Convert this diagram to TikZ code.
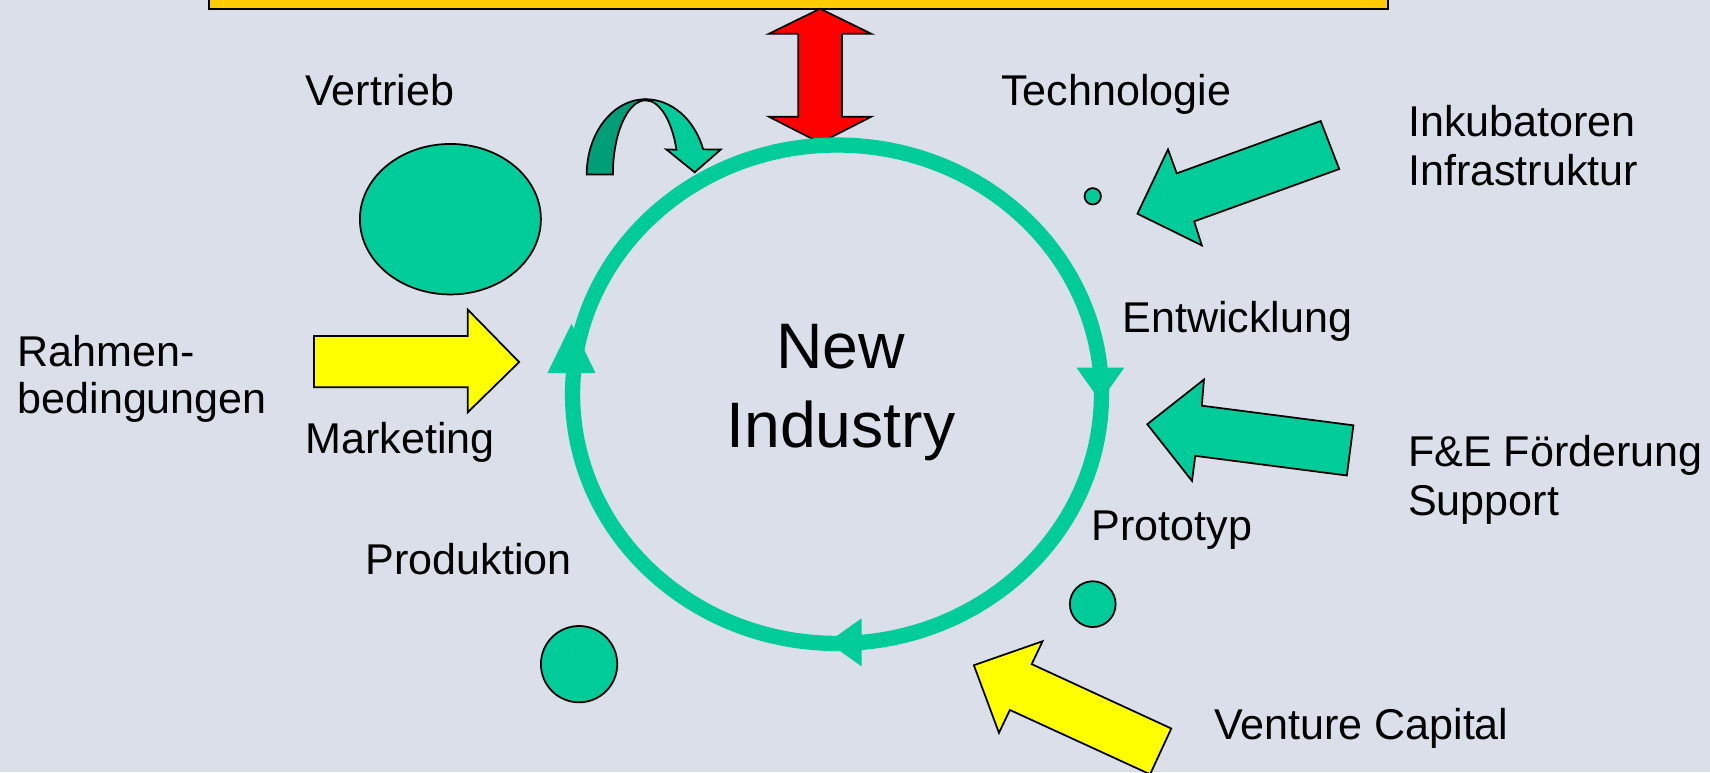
\documentclass[tikz,border=0pt]{standalone}
\usepackage{fontspec}
\setmainfont{Liberation Sans}
\usetikzlibrary{shapes.geometric}
\definecolor{bgc}{RGB}{218,223,234}
\definecolor{grn}{RGB}{0,204,153}
\definecolor{dkgrn}{RGB}{0,158,118}
\definecolor{gold}{RGB}{255,204,0}
\definecolor{yel}{RGB}{255,255,0}
\definecolor{rd}{RGB}{255,0,0}
\tikzset{
  lbl/.style={anchor=base west, inner sep=0pt, font=\fontsize{39.5}{44}\selectfont},
  big/.style={anchor=base, inner sep=0pt, font=\fontsize{59}{70}\selectfont},
  blockarrow/.style={draw=black, line width=1.6pt, line join=miter},
  dot/.style={circle, draw=black, fill=grn, line width=1.6pt, inner sep=0pt},
  ringtip/.style={fill=grn, draw=none}
}
\begin{document}
\begin{tikzpicture}[x=1pt,y=-1pt]
\fill[bgc] (0,0) rectangle (1568,708);
\useasboundingbox (0,0) rectangle (1568,708);

% header bar
\draw[fill=gold, draw=black, line width=1.8pt] (192,-10) rectangle (1273,8);

% red double arrow
\draw[blockarrow, fill=rd] (752,8) -- (799,31) -- (772,31) -- (772,107) -- (799,107)
  -- (752,131) -- (705,107) -- (732,107) -- (732,31) -- (705,31) -- cycle;

% ring
\draw[grn, line width=14pt] (767.5,361.5) ellipse [x radius=242.5, y radius=228.5];
\fill[ringtip] (987,337) -- (1031,337) -- (1009,368) -- cycle;
\fill[ringtip] (790,567) -- (790,611) -- (759,589) -- cycle;
\fill[ringtip] (502,342) -- (546,342) -- (524,297) -- cycle;

% curved arrow
\draw[blockarrow, fill=dkgrn] (538,160) arc[start angle=180, end angle=270, x radius=54, y radius=69]
  -- (592,92) arc[start angle=270, end angle=180, x radius=30, y radius=68] -- cycle;
\draw[blockarrow, fill=grn] (592,91) arc[start angle=270, end angle=340.5, x radius=56, y radius=69]
  -- (661,137) -- (637,158) -- (611,137) -- (620.3,137.3)
  arc[start angle=340.5, end angle=270, x radius=30, y radius=68] -- cycle;

% circles
\node[dot, ellipse, minimum width=166pt, minimum height=138pt] (vt) at (413,201) {};
\node[dot, minimum size=15pt] (tc) at (1002,180) {};
\node[dot, minimum size=42pt] (pt) at (1002,554) {};
\node[dot, minimum size=70pt] (pr) at (531,609) {};

% green block arrows
\draw[blockarrow, fill=grn] (1211,111) -- (1228,155) -- (1095,203) -- (1102,225)
  -- (1043,196) -- (1071,137) -- (1079,159) -- cycle;
\draw[blockarrow, fill=grn] (1241,390) -- (1235,436) -- (1096,418) -- (1093,441)
  -- (1052,389) -- (1104,348) -- (1102,372) -- cycle;

% yellow block arrows
\draw[blockarrow, fill=yel] (288,308) -- (429,308) -- (429,284) -- (476,332)
  -- (429,378) -- (429,355) -- (288,355) -- cycle;
\draw[blockarrow, fill=yel] (1074,668) -- (1054.6,710) -- (926,651) -- (916,672)
  -- (893,610) -- (956,588) -- (946,609) -- cycle;

% labels
\node[lbl] (l1) at (280,97) {Vertrieb};
\node[lbl] (l2) at (918,97) {Technologie};
\node[lbl] (l3) at (1291,125) {Inkubatoren};
\node[lbl] (l4) at (1291,170) {Infrastruktur};
\node[lbl] (l5) at (1029,305) {Entwicklung};
\node[lbl] (l6) at (16,336) {Rahmen-};
\node[lbl] (l7) at (16,379) {bedingungen};
\node[lbl] (l8) at (280,416) {Marketing};
\node[lbl] (l9) at (1291,428) {F\&E Förderung};
\node[lbl] (l10) at (1291,473) {Support};
\node[lbl] (l11) at (1001,496) {Prototyp};
\node[lbl] (l12) at (335,527) {Produktion};
\node[lbl] (l13) at (1113,678) {Venture Capital};
\node[big] (n1) at (771,338) {New};
\node[big] (n2) at (771,410) {Industry};
\end{tikzpicture}
\end{document}
